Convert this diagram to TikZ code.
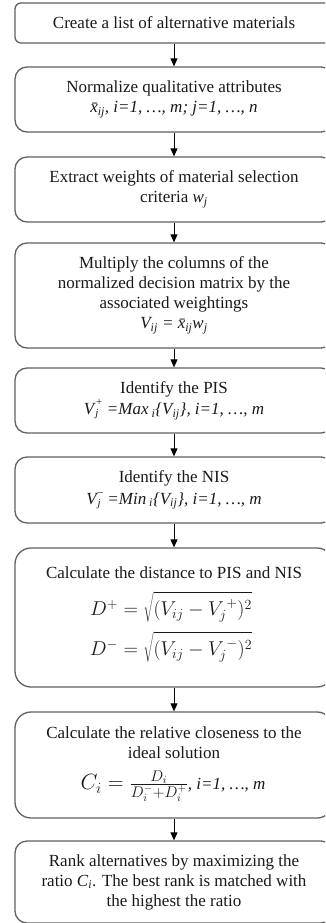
\documentclass[tikz,border=0pt]{standalone}
\usepackage{fix-cm}
\usepackage{fontspec}
\setmainfont{Liberation Serif}
\usetikzlibrary{arrows.meta}
\newcommand\sbsp[2]{\kern1pt\raisebox{3pt}{\fontsize{11}{11}\selectfont\begin{tabular}{@{}l@{}}#2\\#1\end{tabular}}}
\begin{document}
\begin{tikzpicture}[x=1pt,y=-1pt,
  box/.style={draw=black!62, line width=1.3pt, rounded corners=12pt, minimum width=318pt,
    inner sep=0pt, align=center, font=\fontsize{17}{20}\selectfont, text=black!90},
  txt/.style={inner sep=0pt, align=center, font=\fontsize{17}{20}\selectfont, text=black!90},
  arr/.style={line width=1pt, -{Triangle[length=8pt,width=7pt]}}]
\useasboundingbox (0,0) rectangle (325,923);
\clip (0,0) rectangle (325,923);
\node[box, rounded corners=6pt, minimum height=40pt] (b1) at (174,23) {Create a list of alternative materials};
\node[box, minimum height=65pt] (b2) at (174,99.5) {Normalize qualitative attributes\\
  {\itshape \={x}\textsubscript{ij}, i=1, \ldots, m; j=1, \ldots, n}};
\node[box, minimum height=65pt] (b3) at (174,189.5) {Extract weights of material selection\\
  criteria {\itshape w\textsubscript{j}}};
\node[box, minimum height=105pt] (b4) at (174,295.5) {Multiply the columns of the\\
  normalized decision matrix by the\\ associated weightings\\
  {\itshape V\textsubscript{ij} = \={x}\textsubscript{ij}w\textsubscript{j}}};
\node[box, minimum height=65pt] (b5) at (174,400.5) {Identify the PIS\\
  {\itshape V\sbsp{j}{+} =Max\textsubscript{ i}\{V\textsubscript{ij}\}, i=1, \ldots, m}};
\node[box, minimum height=66pt] (b6) at (174,490) {Identify the NIS\\
  {\itshape V\sbsp{j}{--} =Min\textsubscript{ i}\{V\textsubscript{ij}\}, i=1, \ldots, m}};
% box 7
\node[box, rounded corners=16pt, minimum height=139pt] (b7) at (174,617.5) {};
\node[txt] (t7a) at (174,573) {Calculate the distance to PIS and NIS};
\node[txt, font=\fontsize{20}{24}\selectfont] (t7b) at (171,607) {$D^{+} = \sqrt{\rule{0pt}{22pt}(V_{ij} - V_j^{\,+})^2}$};
\node[txt, font=\fontsize{20}{24}\selectfont] (t7c) at (171,647) {$D^{-} = \sqrt{\rule{0pt}{22pt}(V_{ij} - V_j^{\,-})^2}$};
% box 8
\node[box, rounded corners=16pt, minimum height=106pt] (b8) at (174,765) {};
\node[txt] (t8a) at (174,743) {Calculate the relative closeness to the\\ ideal solution};
\node[txt] (t8b) at (173,786) {{\fontsize{22}{24}\selectfont $C_i = \frac{D_i}{D_i^{-}+D_i^{+}}$}{\itshape, i=1, \ldots, m}};
\node[box, minimum height=82pt] (b9) at (174,882) {Rank alternatives by maximizing the\\
  ratio {\itshape C\textsubscript{i}}. The best rank is matched with\\ the highest the ratio};
\draw[arr] (b1) -- (b2);
\draw[arr] (b2) -- (b3);
\draw[arr] (b3) -- (b4);
\draw[arr] (b4) -- (b5);
\draw[arr] (b5) -- (b6);
\draw[arr] (b6) -- (b7);
\draw[arr] (b7) -- (b8);
\draw[arr] (b8) -- (b9);
\end{tikzpicture}
\end{document}
